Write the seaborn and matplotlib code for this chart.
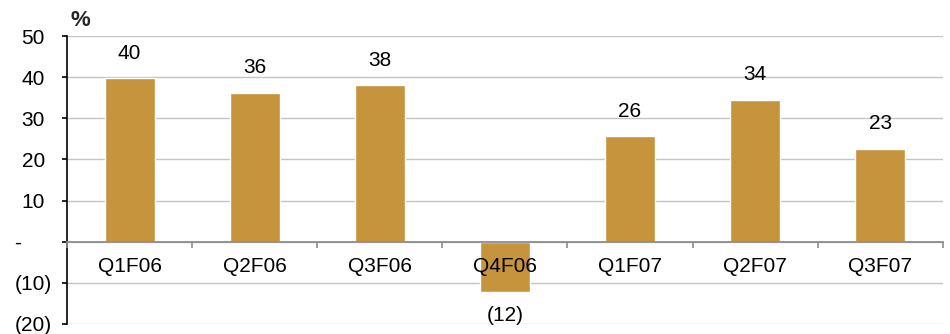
import matplotlib
matplotlib.use("Agg")
import matplotlib.pyplot as plt
from matplotlib.transforms import ScaledTranslation
from matplotlib.ticker import FixedLocator
import seaborn as sns
import pandas as pd

quarters = ["Q1F06", "Q2F06", "Q3F06", "Q4F06", "Q1F07", "Q2F07", "Q3F07"]
growth = [39.8, 36.2, 38.1, -12.2, 25.7, 34.5, 22.6]
y_ticks = [-20, -10, 0, 10, 20, 30, 40, 50]
y_tick_labels = ["(20)", "(10)", "-", "10", "20", "30", "40", "50"]

BAR = "#C7943E"
FS = 15

sns.set_theme(style="white")
plt.rcParams["font.family"] = ["Liberation Sans", "DejaVu Sans"]

df = pd.DataFrame({"quarter": quarters, "growth": growth})

fig = plt.figure(figsize=(9.5, 3.34), dpi=100)
ax = fig.add_axes([0.0705, 0.030, 0.922, 0.862])

sns.barplot(data=df, x="quarter", y="growth", color=BAR, saturation=1,
            width=0.4, ax=ax, zorder=2)

ax.set_xlim(-0.5, len(quarters) - 0.5)
ax.set_ylim(-20, 50)
ax.set_xlabel("")
ax.set_ylabel("")

# horizontal gridlines behind the bars
ax.set_yticks(y_ticks)
ax.set_yticklabels(y_tick_labels, fontsize=FS, color="black")
ax.yaxis.grid(True, color="#C4C4C4", linewidth=1.0)
ax.set_axisbelow(True)
# category labels sit on top of the negative bar
ax.xaxis.set_zorder(3)

# spines: black left axis, grey category axis at zero
for s in ["top", "right"]:
    ax.spines[s].set_visible(False)
ax.spines["left"].set_color("black")
ax.spines["left"].set_linewidth(1.2)
ax.spines["bottom"].set_position(("data", 0))
ax.spines["bottom"].set_color("#8C8C8C")
ax.spines["bottom"].set_linewidth(1.3)
ax.spines["bottom"].set_zorder(3)

ax.tick_params(axis="y", direction="out", length=3.6, width=1.2, color="black",
               pad=7.2, left=True)
ax.tick_params(axis="x", which="major", length=0, pad=11.3, labelsize=FS,
               labelcolor="black")
ax.xaxis.set_minor_locator(FixedLocator([i - 0.5 for i in range(len(quarters) + 1)]))
ax.tick_params(axis="x", which="minor", direction="out", length=4, width=1.2,
               color="#8C8C8C", bottom=True)

# accounting-style alignment of the y tick labels
for lab in ax.get_yticklabels():
    t = lab.get_text()
    if t == "-":
        dx = -30.5 / 100
    elif t.startswith("("):
        dx = 0
    else:
        dx = -7 / 100
    lab.set_transform(lab.get_transform() + ScaledTranslation(dx, 0, fig.dpi_scale_trans))

# value labels
for i, v in enumerate(growth):
    if v >= 0:
        ax.annotate(f"{round(v):d}", (i, v), xytext=(0, 14), textcoords="offset points",
                    ha="center", va="baseline", fontsize=FS, color="black")
    else:
        ax.annotate(f"({round(-v):d})", (i, v), xytext=(0, -10.3), textcoords="offset points",
                    ha="center", va="top", fontsize=FS, color="black")

fig.text(80.5 / 950, 1 - 26 / 334, "%", fontsize=16, fontweight="bold",
         ha="center", va="baseline")

fig.savefig("out.png", dpi=100)
